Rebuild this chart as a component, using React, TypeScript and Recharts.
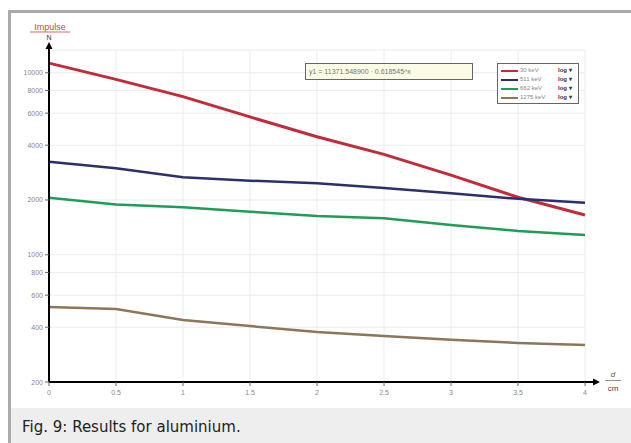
import React from 'react';
import { LineChart, Line, XAxis, YAxis, CartesianGrid } from 'recharts';

const distances = [0, 0.5, 1, 1.5, 2, 2.5, 3, 3.5, 4];
const impulses30keV = [11300, 9200, 7400, 5720, 4450, 3560, 2740, 2070, 1654];
const impulses511keV = [3246, 2990, 2666, 2553, 2471, 2330, 2180, 2030, 1932];
const impulses662keV = [2059, 1890, 1824, 1725, 1634, 1586, 1458, 1352, 1285];
const impulses1275keV = [516, 503, 438, 406, 377, 358, 341, 328, 319];

const xTicks = [0, 0.5, 1, 1.5, 2, 2.5, 3, 3.5, 4];
const yTicks = [200, 400, 600, 800, 1000, 2000, 4000, 6000, 8000, 10000];

const seriesNames = ['30 keV', '511 keV', '662 keV', '1275 keV'];
const seriesKeys = ['e30', 'e511', 'e662', 'e1275'];
const seriesColors = ['#c22c3a', '#2c2f6e', '#1f9d57', '#8b7759'];
const seriesValues = [impulses30keV, impulses511keV, impulses662keV, impulses1275keV];

const fitText = 'y1 = 11371.548900 \u00b7 0.618545^x';
const captionText = 'Fig. 9: Results for aluminium.';
const legendScaleLabel = 'log \u25BE';

const data = distances.map((d, i) => {
  const row: Record<string, number> = { d };
  seriesKeys.forEach((k, j) => {
    row[k] = seriesValues[j][i];
  });
  return row;
});

const FONT = 'Liberation Sans, Arial, sans-serif';

const XTick = (props: any) => {
  const { x, y, payload } = props;
  return (
    <text x={x} y={y + 7} textAnchor="middle" fontSize={7} fill="#888" fontFamily={FONT}>
      {String(payload.value)}
    </text>
  );
};

const YTick = (props: any) => {
  const { x, y, payload } = props;
  return (
    <text x={x} y={y + 2.5} textAnchor="end" fontSize={7} fill="#888" fontFamily={FONT}>
      {String(payload.value)}
    </text>
  );
};

export default function App() {
  return (
    <div style={{ position: 'absolute', left: 0, top: 0, width: 631, height: 443, background: '#fff', overflow: 'hidden' }}>
      <div style={{ position: 'absolute', left: 8, top: 10, width: 623, height: 433, borderTop: '3px solid #aaaaaa', borderLeft: '3px solid #aaaaaa', boxSizing: 'border-box', background: '#fff' }} />
      <div style={{ position: 'absolute', left: 11, top: 408, width: 620, height: 35, background: '#eeeeee' }} />
      <div style={{ position: 'absolute', left: 22, top: 417, fontFamily: 'DejaVu Sans, sans-serif', fontSize: 15, color: '#222', whiteSpace: 'nowrap', lineHeight: '20px' }}>
        {captionText}
      </div>

      <div style={{ position: 'absolute', left: 0, top: 0 }}>
        <LineChart width={631} height={408} data={data} margin={{ top: 50, right: 46, bottom: 6, left: 9 }}>
          <CartesianGrid stroke="#ececec" strokeWidth={1} />
          <XAxis
            dataKey="d"
            type="number"
            domain={[0, 4]}
            ticks={xTicks}
            height={20}
            tick={<XTick />}
            tickSize={4}
            tickMargin={2}
            tickLine={{ stroke: '#666' }}
            axisLine={{ stroke: '#000', strokeWidth: 2 }}
            interval={0}
          />
          <YAxis
            type="number"
            scale="log"
            domain={[200, 13340]}
            allowDataOverflow
            ticks={yTicks}
            width={40}
            tick={<YTick />}
            tickSize={4}
            tickMargin={2}
            tickLine={{ stroke: '#666' }}
            axisLine={{ stroke: '#000', strokeWidth: 2 }}
            interval={0}
          />
          {seriesKeys.map((k, i) => (
            <Line
              key={k}
              dataKey={k}
              name={seriesNames[i]}
              stroke={seriesColors[i]}
              strokeWidth={i === 0 ? 3 : 2.5}
              dot={false}
              type="linear"
              isAnimationActive={false}
            />
          ))}
        </LineChart>
      </div>

      <svg width={631} height={443} style={{ position: 'absolute', left: 0, top: 0, pointerEvents: 'none' }}>
        <line x1={585} y1={382} x2={594} y2={382} stroke="#000" strokeWidth={2} />
        <polygon points="593,378.5 600,382 593,385.5" fill="#000" />
        <line x1={49} y1={50} x2={49} y2={47} stroke="#000" strokeWidth={2} />
        <polygon points="45.5,49 49,42 52.5,49" fill="#000" />
        <text x={50} y={30} textAnchor="middle" fontSize={9} fill="#c04848" fontFamily={FONT}>Impulse</text>
        <line x1={30} y1={32} x2={70} y2={32} stroke="#c04848" strokeWidth={0.8} />
        <text x={49} y={40} textAnchor="middle" fontSize={7} fill="#333" fontFamily={FONT}>N</text>
        <text x={613} y={377} textAnchor="middle" fontSize={8} fill="#555" fontFamily={FONT} fontStyle="italic">d</text>
        <line x1={605} y1={380.5} x2={621} y2={380.5} stroke="#777" strokeWidth={0.8} />
        <text x={613} y={391} textAnchor="middle" fontSize={8} fill="#444" fontFamily={FONT}>cm</text>
      </svg>

      <div style={{ position: 'absolute', left: 305, top: 63, width: 168, height: 17, boxSizing: 'border-box', border: '1px solid #666', background: '#fbfbe6', fontFamily: FONT, fontSize: 7, color: '#777', lineHeight: '15px', paddingLeft: 3, whiteSpace: 'nowrap' }}>
        {fitText}
      </div>

      <div style={{ position: 'absolute', left: 497, top: 63, width: 82, height: 41, boxSizing: 'border-box', border: '1px solid #666', background: '#fff', paddingTop: 2 }}>
        {seriesNames.map((n, i) => (
          <div key={n} style={{ position: 'relative', height: 9, fontFamily: FONT, fontSize: 6, lineHeight: '9px', whiteSpace: 'nowrap' }}>
            <div style={{ position: 'absolute', left: 3, top: 3.5, width: 17, height: 2.5, background: seriesColors[i] }} />
            <span style={{ position: 'absolute', left: 22, top: 0, color: '#888' }}>{n}</span>
            <span style={{ position: 'absolute', left: 60, top: 0, color: '#333', fontWeight: 'bold' }}>{legendScaleLabel}</span>
          </div>
        ))}
      </div>
    </div>
  );
}
